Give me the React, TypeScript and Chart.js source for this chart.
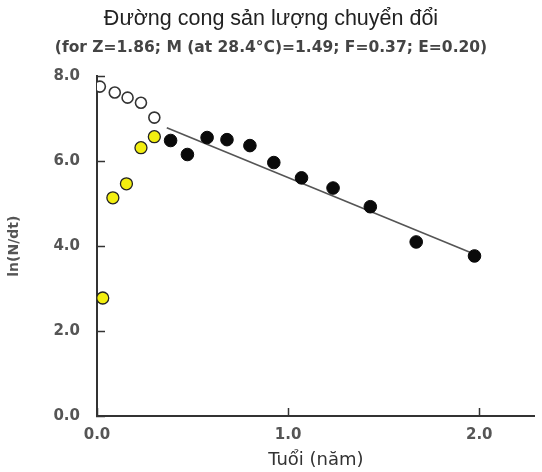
import React, { useEffect, useRef } from "react";
import { Chart, registerables } from "chart.js";

Chart.register(...registerables);

const titleText = "Đường cong sản lượng chuyển đổi";
const subtitleText = "(for Z=1.86; M (at 28.4°C)=1.49; F=0.37; E=0.20)";
const xTitle = "Tuổi (năm)";
const yTitle = "ln(N/dt)";

// age (years) and ln(N/dt)
const openAges = [0.015, 0.093, 0.16, 0.23, 0.3];
const openVals = [7.76, 7.62, 7.5, 7.38, 7.03];

const yellowAges = [0.03, 0.083, 0.154, 0.23, 0.3];
const yellowVals = [2.78, 5.14, 5.47, 6.32, 6.58];

const blackAges = [0.385, 0.473, 0.576, 0.68, 0.8, 0.925, 1.07, 1.235, 1.43, 1.67, 1.975];
const blackVals = [6.49, 6.16, 6.56, 6.51, 6.37, 5.97, 5.61, 5.37, 4.93, 4.1, 3.77];

const lineAges = [0.365, 1.97];
const lineVals = [6.79, 3.82];

const zip = (xs: number[], ys: number[]) => xs.map((x, i) => ({ x, y: ys[i] }));

export default function App() {
  const ref = useRef<HTMLCanvasElement | null>(null);

  useEffect(() => {
    if (!ref.current) return;
    const chart = new Chart(ref.current, {
      type: "scatter",
      data: {
        datasets: [
          {
            label: "open",
            data: zip(openAges, openVals),
            pointRadius: 5.5,
            pointBackgroundColor: "#ffffff",
            pointBorderColor: "#333333",
            pointBorderWidth: 1.6,
            order: 1,
          },
          {
            label: "yellow",
            data: zip(yellowAges, yellowVals),
            pointRadius: 6,
            pointBackgroundColor: "#f2ee10",
            pointBorderColor: "#222222",
            pointBorderWidth: 1.3,
            order: 1,
          },
          {
            label: "black",
            data: zip(blackAges, blackVals),
            pointRadius: 6.3,
            pointBackgroundColor: "#0a0a0a",
            pointBorderColor: "#0a0a0a",
            pointBorderWidth: 1,
            order: 1,
          },
          {
            label: "fit",
            type: "line",
            data: zip(lineAges, lineVals),
            borderColor: "#555555",
            borderWidth: 1.6,
            pointRadius: 0,
            showLine: true,
            fill: false,
            order: 2,
          },
        ],
      },
      options: {
        responsive: false,
        animation: false,
        devicePixelRatio: 1,
        layout: { padding: { left: 0, right: 0, top: 0, bottom: 0 } },
        plugins: {
          legend: { display: false },
          tooltip: { enabled: false },
          title: {
            display: true,
            text: titleText,
            color: "#222222",
            font: { family: "Liberation Sans", size: 21.5, weight: "normal" },
            padding: { top: 6, bottom: 0 },
          },
          subtitle: {
            display: true,
            text: subtitleText,
            color: "#444444",
            font: { family: "DejaVu Sans", size: 15.5, weight: "bold" },
            padding: { top: 7, bottom: 19 },
          },
        },
        scales: {
          x: {
            type: "linear",
            min: 0,
            max: 2.29,
            border: { display: true, color: "#333333", width: 2 },
            grid: {
              drawOnChartArea: false,
              drawTicks: true,
              tickLength: -8,
              tickColor: "#333333",
              tickWidth: 1.5,
            },
            ticks: {
              stepSize: 1,
              includeBounds: false,
              padding: 18,
              color: "#555555",
              font: { family: "DejaVu Sans", size: 15, weight: "bold" },
              callback: (v: any) => Number(v).toFixed(1),
            },
            title: {
              display: true,
              text: xTitle,
              color: "#333333",
              font: { family: "DejaVu Sans", size: 18, weight: "normal" },
              padding: { top: 2, bottom: 1 },
            },
            afterFit: (s: any) => {
              s.height = 56;
            },
          },
          y: {
            type: "linear",
            min: 0,
            max: 8,
            border: { display: true, color: "#333333", width: 2 },
            grid: {
              drawOnChartArea: false,
              drawTicks: true,
              tickLength: -8,
              tickColor: "#333333",
              tickWidth: 1.5,
            },
            ticks: {
              stepSize: 2,
              padding: 25,
              color: "#555555",
              font: { family: "DejaVu Sans", size: 15, weight: "bold" },
              callback: (v: any) => Number(v).toFixed(1),
            },
            title: {
              display: true,
              text: yTitle,
              color: "#555555",
              font: { family: "DejaVu Sans", size: 14, weight: "bold" },
              padding: { top: 6, bottom: 0 },
            },
            afterFit: (s: any) => {
              s.width = 97;
            },
          },
        },
      },
    });
    return () => chart.destroy();
  }, []);

  return (
    <div style={{ position: "absolute", left: 0, top: 0, width: 542, height: 472, background: "#ffffff" }}>
      <canvas ref={ref} width={542} height={472} />
    </div>
  );
}
